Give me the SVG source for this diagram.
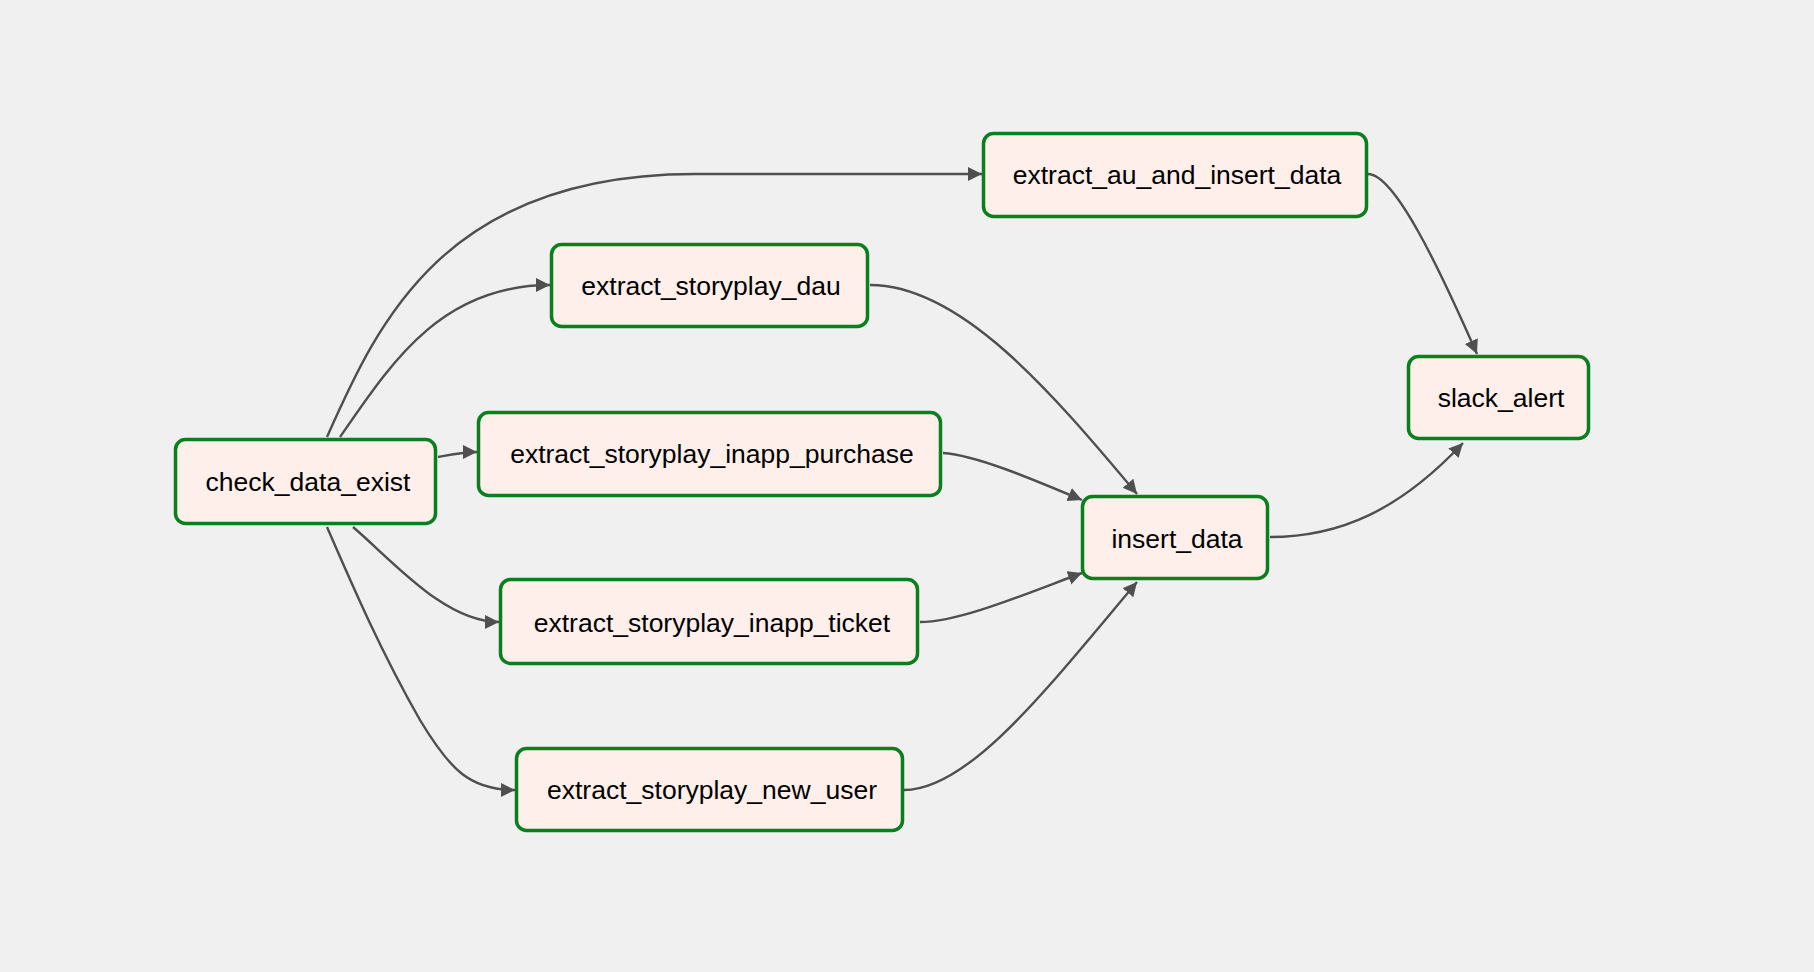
<svg xmlns="http://www.w3.org/2000/svg" width="1814" height="972" viewBox="0 0 1814 972">
<style>
.node rect{fill:#ffefeb;stroke:#0a7f1e;stroke-width:3.5}
.node text{font-family:"Liberation Sans",Arial,sans-serif;font-size:26.5px;fill:#000;text-anchor:middle}
.edges path{fill:none;stroke:#4f4f4f;stroke-width:2.4}
</style>
<defs>
<marker id="arr" markerUnits="userSpaceOnUse" markerWidth="16" markerHeight="16" refX="14" refY="7" orient="auto">
<path d="M0,0 L14,7 L0,14 z" fill="#4f4f4f"/>
</marker>
</defs>
<rect width="1814" height="972" fill="#f0f0f0"/>
<g class="edges">
<path d="M327,437 C378,322 445,174 695,174 L982,174" marker-end="url(#arr)"/>
<path d="M340,437 C390,365 440,285 550,285" marker-end="url(#arr)"/>
<path d="M438,457 C455,454 465,452 477,452" marker-end="url(#arr)"/>
<path d="M353,527 C395,563 445,622 499,622" marker-end="url(#arr)"/>
<path d="M327,527 C350,580 380,650 420,720 C450,770 470,790 515,790" marker-end="url(#arr)"/>
<path d="M870,285 C960,285 1050,390 1137,494" marker-end="url(#arr)"/>
<path d="M943,453 C975,455 1030,478 1082,500" marker-end="url(#arr)"/>
<path d="M920,622 C960,622 1030,592 1082,573" marker-end="url(#arr)"/>
<path d="M904,790 C970,790 1050,685 1137,582" marker-end="url(#arr)"/>
<path d="M1368,174 C1395,174 1440,270 1477,354" marker-end="url(#arr)"/>
<path d="M1270,537 C1340,537 1400,510 1463,443" marker-end="url(#arr)"/>
</g>
<g id="check_data_exist" class="node"><rect x="175.5" y="439.5" width="260" height="84" rx="10"/><text x="308" y="491">check_data_exist</text></g>
<g id="extract_au_and_insert_data" class="node"><rect x="983.5" y="133.5" width="383" height="83" rx="10"/><text x="1177" y="184">extract_au_and_insert_data</text></g>
<g id="extract_storyplay_dau" class="node"><rect x="551.5" y="244.5" width="316" height="82" rx="10"/><text x="711" y="295">extract_storyplay_dau</text></g>
<g id="extract_storyplay_inapp_purchase" class="node"><rect x="478.5" y="412.5" width="462" height="83" rx="10"/><text x="712" y="463">extract_storyplay_inapp_purchase</text></g>
<g id="extract_storyplay_inapp_ticket" class="node"><rect x="500.5" y="579.5" width="417" height="84" rx="10"/><text x="712" y="632">extract_storyplay_inapp_ticket</text></g>
<g id="extract_storyplay_new_user" class="node"><rect x="516.5" y="748.5" width="386" height="82" rx="10"/><text x="712" y="799">extract_storyplay_new_user</text></g>
<g id="insert_data" class="node"><rect x="1082.5" y="496.5" width="185" height="82" rx="10"/><text x="1177" y="548">insert_data</text></g>
<g id="slack_alert" class="node"><rect x="1408.5" y="356.5" width="180" height="82" rx="10"/><text x="1501" y="407">slack_alert</text></g>
</svg>
